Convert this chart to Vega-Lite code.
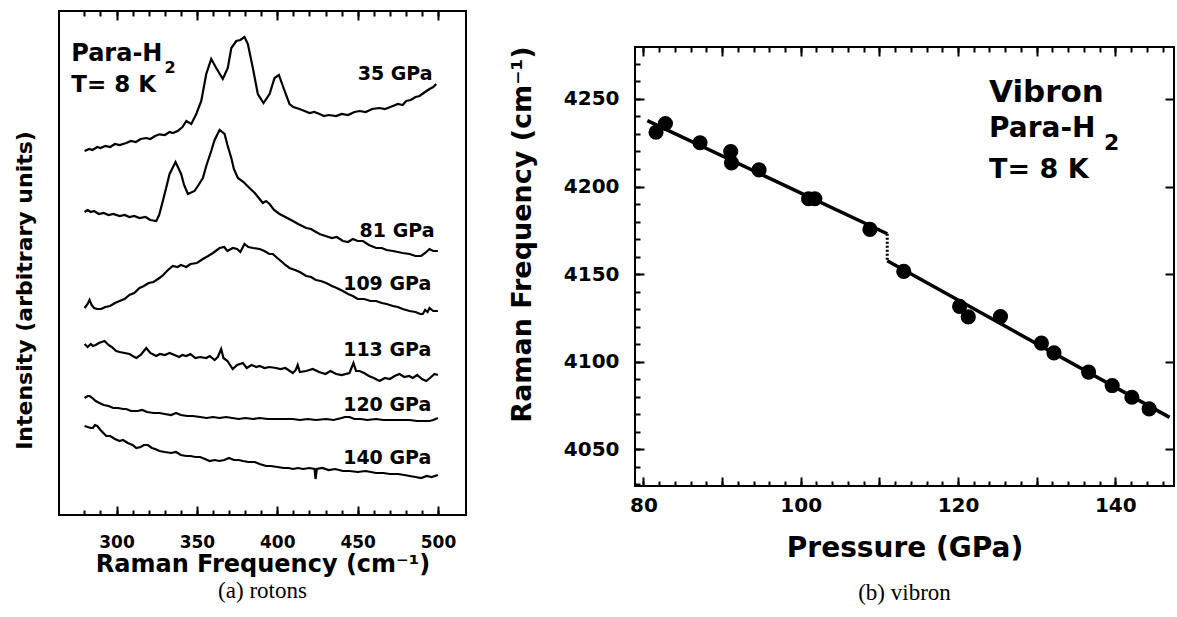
{
 "$schema": "https://vega.github.io/schema/vega-lite/v6.json",
 "padding": {"left": 12, "top": 9, "right": 0, "bottom": 0},
 "background": "white",
 "spacing": 40,
 "config": {
  "view": {"stroke": "black", "strokeWidth": 2},
  "axis": {"grid": false, "domain": false, "tickColor": "black", "tickWidth": 2, "labelColor": "black", "titleColor": "black", "labelFont": "DejaVu Sans", "labelFontWeight": "bold", "titleFont": "DejaVu Sans", "titleFontWeight": "bold", "labelFlush": false}
 },
 "datasets": {
  "spectra": [
   {"s":"35","f":280.1,"i":364},{"s":"35","f":283,"i":366},{"s":"35","f":285,"i":365},{"s":"35","f":288,"i":368},{"s":"35","f":290,"i":367},{"s":"35","f":293,"i":369},{"s":"35","f":296,"i":368},{"s":"35","f":299,"i":371},{"s":"35","f":302,"i":370},{"s":"35","f":306,"i":372},{"s":"35","f":309,"i":374},{"s":"35","f":312,"i":373},{"s":"35","f":315,"i":376},{"s":"35","f":318.5,"i":377},{"s":"35","f":321,"i":376},{"s":"35","f":324,"i":379},{"s":"35","f":326.7,"i":380.7},{"s":"35","f":330,"i":380},{"s":"35","f":333,"i":383},{"s":"35","f":335,"i":382},{"s":"35","f":338,"i":384},{"s":"35","f":341,"i":388},{"s":"35","f":343.4,"i":394},{"s":"35","f":346.5,"i":391},{"s":"35","f":349.6,"i":401},{"s":"35","f":352.7,"i":414},{"s":"35","f":355.8,"i":441},{"s":"35","f":358.9,"i":456},{"s":"35","f":362,"i":447},{"s":"35","f":366.1,"i":436},{"s":"35","f":369.2,"i":447},{"s":"35","f":371.4,"i":467},{"s":"35","f":374.5,"i":474},{"s":"35","f":377,"i":475},{"s":"35","f":379.6,"i":478},{"s":"35","f":381.7,"i":471},{"s":"35","f":384.8,"i":447},{"s":"35","f":387.9,"i":421},{"s":"35","f":391.4,"i":412},{"s":"35","f":395.2,"i":421},{"s":"35","f":398.3,"i":437},{"s":"35","f":401,"i":440},{"s":"35","f":403.9,"i":427},{"s":"35","f":407.6,"i":411},{"s":"35","f":410,"i":408},{"s":"35","f":413.8,"i":406},{"s":"35","f":417,"i":404},{"s":"35","f":420,"i":402},{"s":"35","f":423,"i":403},{"s":"35","f":426.3,"i":401},{"s":"35","f":429,"i":399},{"s":"35","f":432,"i":400},{"s":"35","f":436.7,"i":399},{"s":"35","f":440,"i":401},{"s":"35","f":444,"i":400},{"s":"35","f":448,"i":403},{"s":"35","f":451.2,"i":404},{"s":"35","f":455,"i":403},{"s":"35","f":459,"i":406},{"s":"35","f":463.6,"i":407},{"s":"35","f":467,"i":406},{"s":"35","f":471.9,"i":409},{"s":"35","f":475,"i":411},{"s":"35","f":478,"i":410},{"s":"35","f":480.2,"i":414},{"s":"35","f":483,"i":415},{"s":"35","f":486,"i":418},{"s":"35","f":488.5,"i":419},{"s":"35","f":491,"i":422},{"s":"35","f":494.7,"i":426},{"s":"35","f":497,"i":428},{"s":"35","f":498.9,"i":431},
   {"s":"81","f":280.1,"i":303},{"s":"81","f":282,"i":305},{"s":"81","f":284,"i":303},{"s":"81","f":286,"i":304},{"s":"81","f":289,"i":301},{"s":"81","f":292,"i":302},{"s":"81","f":295,"i":300},{"s":"81","f":298,"i":301},{"s":"81","f":301.9,"i":299},{"s":"81","f":305,"i":300},{"s":"81","f":308,"i":298},{"s":"81","f":311,"i":299},{"s":"81","f":314.3,"i":297},{"s":"81","f":318,"i":298},{"s":"81","f":321,"i":295},{"s":"81","f":324.7,"i":294},{"s":"81","f":326.5,"i":300},{"s":"81","f":328.8,"i":314},{"s":"81","f":331,"i":328},{"s":"81","f":333,"i":341},{"s":"81","f":336.7,"i":353},{"s":"81","f":340.2,"i":341},{"s":"81","f":342,"i":330},{"s":"81","f":344.4,"i":321},{"s":"81","f":348.5,"i":324},{"s":"81","f":351,"i":330},{"s":"81","f":353.7,"i":337},{"s":"81","f":356,"i":350},{"s":"81","f":358.9,"i":364},{"s":"81","f":361,"i":375},{"s":"81","f":364.1,"i":385},{"s":"81","f":367.2,"i":381},{"s":"81","f":369,"i":370},{"s":"81","f":371.4,"i":357},{"s":"81","f":373,"i":346},{"s":"81","f":375.5,"i":337},{"s":"81","f":379,"i":333},{"s":"81","f":382.7,"i":327},{"s":"81","f":386,"i":322},{"s":"81","f":388,"i":318},{"s":"81","f":391,"i":312},{"s":"81","f":393,"i":314},{"s":"81","f":395.2,"i":311},{"s":"81","f":398,"i":305},{"s":"81","f":401.4,"i":301},{"s":"81","f":405,"i":298},{"s":"81","f":409.7,"i":294},{"s":"81","f":413,"i":291},{"s":"81","f":418,"i":287},{"s":"81","f":421,"i":286},{"s":"81","f":423,"i":284},{"s":"81","f":426.3,"i":281},{"s":"81","f":430,"i":279},{"s":"81","f":434,"i":277},{"s":"81","f":437,"i":278},{"s":"81","f":440.8,"i":274},{"s":"81","f":444,"i":273},{"s":"81","f":447,"i":276},{"s":"81","f":450,"i":274},{"s":"81","f":453.3,"i":274},{"s":"81","f":457,"i":270},{"s":"81","f":461.5,"i":267},{"s":"81","f":465,"i":267},{"s":"81","f":468,"i":265},{"s":"81","f":471.9,"i":264},{"s":"81","f":475,"i":263},{"s":"81","f":478,"i":262},{"s":"81","f":482.3,"i":261},{"s":"81","f":486,"i":259},{"s":"81","f":489.5,"i":259},{"s":"81","f":492,"i":262},{"s":"81","f":494.7,"i":266},{"s":"81","f":497,"i":264},{"s":"81","f":499.9,"i":264},
   {"s":"109","f":280.1,"i":207},{"s":"109","f":282,"i":211},{"s":"109","f":283.2,"i":215},{"s":"109","f":284.5,"i":210},{"s":"109","f":286,"i":207},{"s":"109","f":288,"i":206},{"s":"109","f":290.5,"i":206},{"s":"109","f":293,"i":208},{"s":"109","f":296,"i":209},{"s":"109","f":299,"i":212},{"s":"109","f":301.9,"i":214},{"s":"109","f":305,"i":216},{"s":"109","f":308,"i":220},{"s":"109","f":311,"i":222},{"s":"109","f":314.3,"i":227},{"s":"109","f":317,"i":229},{"s":"109","f":320,"i":232},{"s":"109","f":323,"i":233},{"s":"109","f":326.7,"i":237},{"s":"109","f":329,"i":240},{"s":"109","f":332,"i":245},{"s":"109","f":335,"i":249},{"s":"109","f":338,"i":248},{"s":"109","f":340,"i":250},{"s":"109","f":343.4,"i":248},{"s":"109","f":346,"i":251},{"s":"109","f":350,"i":252},{"s":"109","f":353.7,"i":256},{"s":"109","f":357,"i":259},{"s":"109","f":360,"i":262},{"s":"109","f":364.1,"i":267},{"s":"109","f":367,"i":268},{"s":"109","f":369,"i":264},{"s":"109","f":372.3,"i":267},{"s":"109","f":375,"i":266},{"s":"109","f":377,"i":263},{"s":"109","f":379.6,"i":271},{"s":"109","f":382,"i":268},{"s":"109","f":385,"i":267},{"s":"109","f":389,"i":266},{"s":"109","f":392,"i":264},{"s":"109","f":395,"i":261},{"s":"109","f":397.2,"i":261},{"s":"109","f":400,"i":257},{"s":"109","f":403,"i":253},{"s":"109","f":405,"i":250},{"s":"109","f":407.6,"i":247},{"s":"109","f":411,"i":245},{"s":"109","f":414,"i":243},{"s":"109","f":418,"i":239},{"s":"109","f":421,"i":238},{"s":"109","f":424,"i":235},{"s":"109","f":427,"i":234},{"s":"109","f":430.4,"i":232},{"s":"109","f":434,"i":229},{"s":"109","f":437,"i":227},{"s":"109","f":440.8,"i":224},{"s":"109","f":444,"i":221},{"s":"109","f":447,"i":219},{"s":"109","f":450,"i":216},{"s":"109","f":454,"i":216},{"s":"109","f":458,"i":214},{"s":"109","f":461.5,"i":214},{"s":"109","f":465,"i":212},{"s":"109","f":468,"i":211},{"s":"109","f":471.9,"i":209},{"s":"109","f":475,"i":208},{"s":"109","f":478,"i":206},{"s":"109","f":482.3,"i":204},{"s":"109","f":486,"i":203},{"s":"109","f":489,"i":201},{"s":"109","f":490.5,"i":201},{"s":"109","f":492,"i":205},{"s":"109","f":493.5,"i":203},{"s":"109","f":494.7,"i":207},{"s":"109","f":497,"i":204},{"s":"109","f":499.9,"i":204},
   {"s":"113","f":280.1,"i":171},{"s":"113","f":282,"i":168},{"s":"113","f":284,"i":171},{"s":"113","f":285.3,"i":169},{"s":"113","f":287,"i":170},{"s":"113","f":289,"i":172},{"s":"113","f":292.5,"i":174},{"s":"113","f":295,"i":170},{"s":"113","f":297,"i":168},{"s":"113","f":299.8,"i":164},{"s":"113","f":302,"i":163},{"s":"113","f":305,"i":162},{"s":"113","f":308.1,"i":161},{"s":"113","f":310,"i":159},{"s":"113","f":312.3,"i":157},{"s":"113","f":315,"i":160},{"s":"113","f":318.5,"i":167},{"s":"113","f":321,"i":162},{"s":"113","f":324.7,"i":159},{"s":"113","f":327,"i":161},{"s":"113","f":330,"i":160},{"s":"113","f":333,"i":162},{"s":"113","f":336,"i":160},{"s":"113","f":339,"i":158},{"s":"113","f":341,"i":160},{"s":"113","f":343.4,"i":159},{"s":"113","f":346,"i":161},{"s":"113","f":349,"i":157},{"s":"113","f":352,"i":158},{"s":"113","f":355.8,"i":157},{"s":"113","f":358,"i":159},{"s":"113","f":361,"i":155},{"s":"113","f":363,"i":158},{"s":"113","f":365.1,"i":166},{"s":"113","f":366.5,"i":157},{"s":"113","f":369,"i":154},{"s":"113","f":372.3,"i":146},{"s":"113","f":375,"i":150},{"s":"113","f":378.6,"i":152},{"s":"113","f":381,"i":147},{"s":"113","f":384,"i":150},{"s":"113","f":387,"i":148},{"s":"113","f":389,"i":149},{"s":"113","f":392,"i":147},{"s":"113","f":395,"i":148},{"s":"113","f":399.3,"i":147},{"s":"113","f":402,"i":146},{"s":"113","f":405,"i":147},{"s":"113","f":409.7,"i":142},{"s":"113","f":411.5,"i":145},{"s":"113","f":412.7,"i":150},{"s":"113","f":414,"i":143},{"s":"113","f":418,"i":144},{"s":"113","f":422.1,"i":146},{"s":"113","f":426,"i":143},{"s":"113","f":430,"i":141},{"s":"113","f":433,"i":144},{"s":"113","f":436.7,"i":141},{"s":"113","f":440,"i":140},{"s":"113","f":444.9,"i":142},{"s":"113","f":447.4,"i":152},{"s":"113","f":449,"i":144},{"s":"113","f":451.2,"i":144},{"s":"113","f":454,"i":142},{"s":"113","f":457,"i":139},{"s":"113","f":460,"i":137},{"s":"113","f":463.6,"i":134},{"s":"113","f":467,"i":137},{"s":"113","f":470,"i":136},{"s":"113","f":473,"i":139},{"s":"113","f":476,"i":141},{"s":"113","f":479,"i":138},{"s":"113","f":482,"i":139},{"s":"113","f":484.3,"i":137},{"s":"113","f":487,"i":140},{"s":"113","f":490,"i":136},{"s":"113","f":492.7,"i":134},{"s":"113","f":495,"i":137},{"s":"113","f":497.8,"i":141},{"s":"113","f":499.9,"i":140},
   {"s":"120","f":280.1,"i":117},{"s":"120","f":282,"i":119},{"s":"120","f":283.2,"i":119},{"s":"120","f":285,"i":117},{"s":"120","f":287,"i":114},{"s":"120","f":289.4,"i":112},{"s":"120","f":292,"i":110},{"s":"120","f":295,"i":109},{"s":"120","f":298,"i":107},{"s":"120","f":301,"i":107},{"s":"120","f":304,"i":106},{"s":"120","f":306,"i":106},{"s":"120","f":309,"i":104},{"s":"120","f":313,"i":104},{"s":"120","f":316,"i":105},{"s":"120","f":319,"i":103},{"s":"120","f":323,"i":102},{"s":"120","f":326.7,"i":102},{"s":"120","f":330,"i":101},{"s":"120","f":334,"i":100},{"s":"120","f":337,"i":102},{"s":"120","f":340,"i":100},{"s":"120","f":344,"i":99},{"s":"120","f":347.5,"i":99},{"s":"120","f":352,"i":98},{"s":"120","f":356,"i":97},{"s":"120","f":360,"i":98},{"s":"120","f":364,"i":97},{"s":"120","f":368.2,"i":98},{"s":"120","f":372,"i":97},{"s":"120","f":376,"i":96},{"s":"120","f":380,"i":97},{"s":"120","f":385,"i":96},{"s":"120","f":389,"i":97},{"s":"120","f":394,"i":96},{"s":"120","f":398,"i":96},{"s":"120","f":403,"i":96},{"s":"120","f":409.7,"i":96},{"s":"120","f":414,"i":95},{"s":"120","f":419,"i":96},{"s":"120","f":424,"i":95},{"s":"120","f":430.4,"i":96},{"s":"120","f":435,"i":95},{"s":"120","f":440,"i":97},{"s":"120","f":442,"i":98},{"s":"120","f":444.9,"i":98},{"s":"120","f":448,"i":96},{"s":"120","f":452,"i":96},{"s":"120","f":456,"i":95},{"s":"120","f":461.5,"i":96},{"s":"120","f":466,"i":95},{"s":"120","f":471,"i":95},{"s":"120","f":476,"i":95},{"s":"120","f":482.3,"i":95},{"s":"120","f":487,"i":94},{"s":"120","f":492,"i":94},{"s":"120","f":494.7,"i":94},{"s":"120","f":497,"i":95},{"s":"120","f":499.9,"i":97},
   {"s":"140","f":280.1,"i":89},{"s":"140","f":282,"i":88},{"s":"140","f":284,"i":87},{"s":"140","f":285.3,"i":87},{"s":"140","f":286.5,"i":90},{"s":"140","f":288,"i":89},{"s":"140","f":290,"i":85},{"s":"140","f":293.6,"i":79},{"s":"140","f":296,"i":79},{"s":"140","f":299,"i":76},{"s":"140","f":301.9,"i":74},{"s":"140","f":304,"i":75},{"s":"140","f":307,"i":72},{"s":"140","f":310,"i":70},{"s":"140","f":312.3,"i":67},{"s":"140","f":315,"i":68},{"s":"140","f":317,"i":70},{"s":"140","f":319.5,"i":70},{"s":"140","f":322,"i":67},{"s":"140","f":324,"i":66},{"s":"140","f":326.7,"i":64},{"s":"140","f":330,"i":63},{"s":"140","f":334,"i":62},{"s":"140","f":337,"i":63},{"s":"140","f":340,"i":60},{"s":"140","f":343.4,"i":59},{"s":"140","f":346,"i":59},{"s":"140","f":349,"i":58},{"s":"140","f":352,"i":58},{"s":"140","f":355,"i":56},{"s":"140","f":357.9,"i":54},{"s":"140","f":361,"i":55},{"s":"140","f":364,"i":54},{"s":"140","f":367,"i":55},{"s":"140","f":370,"i":57},{"s":"140","f":373,"i":55},{"s":"140","f":376,"i":55},{"s":"140","f":378.6,"i":54},{"s":"140","f":382,"i":53},{"s":"140","f":386,"i":53},{"s":"140","f":389,"i":51},{"s":"140","f":393.1,"i":49},{"s":"140","f":396,"i":49},{"s":"140","f":400,"i":48},{"s":"140","f":404,"i":47},{"s":"140","f":407,"i":47},{"s":"140","f":409.7,"i":46},{"s":"140","f":413,"i":47},{"s":"140","f":416,"i":46},{"s":"140","f":420,"i":47},{"s":"140","f":423.2,"i":46},{"s":"140","f":423.8,"i":36},{"s":"140","f":424.6,"i":46},{"s":"140","f":428,"i":47},{"s":"140","f":432,"i":45},{"s":"140","f":436,"i":46},{"s":"140","f":440.8,"i":44},{"s":"140","f":445,"i":44},{"s":"140","f":450,"i":43},{"s":"140","f":455,"i":44},{"s":"140","f":461.5,"i":42},{"s":"140","f":466,"i":42},{"s":"140","f":470,"i":41},{"s":"140","f":475,"i":41},{"s":"140","f":479,"i":40},{"s":"140","f":482.3,"i":39},{"s":"140","f":486,"i":38},{"s":"140","f":489.5,"i":37},{"s":"140","f":493,"i":39},{"s":"140","f":496,"i":38},{"s":"140","f":499.9,"i":40}
  ],
  "speclabels": [
   {"t":"35 GPa","f":496.6,"i":441.3},
   {"t":"81 GPa","f":497.8,"i":284},
   {"t":"109 GPa","f":495.8,"i":231.3},
   {"t":"113 GPa","f":495.8,"i":164.7},
   {"t":"120 GPa","f":495.8,"i":110},
   {"t":"140 GPa","f":495.8,"i":56.7}
  ],
  "vibron": [
   {"p":81.6,"nu":4231},{"p":82.8,"nu":4236},{"p":87.2,"nu":4225},{"p":91.1,"nu":4220},{"p":91.2,"nu":4213.5},{"p":94.7,"nu":4209.5},{"p":101.0,"nu":4193},{"p":101.8,"nu":4193},{"p":108.8,"nu":4175.5},{"p":113.1,"nu":4151.5},{"p":120.2,"nu":4131.5},{"p":121.3,"nu":4125.5},{"p":125.4,"nu":4125.7},{"p":130.6,"nu":4110.5},{"p":132.2,"nu":4105},{"p":136.6,"nu":4094},{"p":139.6,"nu":4086.3},{"p":142.1,"nu":4079.6},{"p":144.3,"nu":4073}
  ],
  "fits": [
   {"seg":"a","p":80.5,"nu":4237.6},{"seg":"a","p":111.0,"nu":4173},
   {"seg":"b","p":111.0,"nu":4157.6},{"seg":"b","p":146.9,"nu":4068.1}
  ],
  "jump": [
   {"p":111.0,"nu":4173},{"p":111.0,"nu":4157.6}
  ]
 },
 "hconcat": [
  {
   "width": 407, "height": 504,
   "title": {"text": "(a) rotons", "orient": "bottom", "font": "Liberation Serif", "fontWeight": "normal", "fontSize": 23, "offset": 4, "color": "black"},
   "resolve": {"axis": {"x": "independent", "y": "independent"}},
   "layer": [
    {
     "data": {"name": "spectra"},
     "mark": {"type": "line", "color": "black", "strokeWidth": 2.2},
     "encoding": {
      "x": {"field": "f", "type": "quantitative", "scale": {"domain": [264.2, 517.4]},
            "axis": {"orient": "bottom", "values": [300,350,400,450,500], "tickSize": -9, "labelFontSize": 17, "labelPadding": 28, "title": "Raman Frequency (cm⁻¹)", "titleFontSize": 24, "titlePadding": 2}},
      "y": {"field": "i", "type": "quantitative", "scale": {"domain": [0, 504]},
            "axis": {"orient": "left", "ticks": false, "labels": false, "title": "Intensity (arbitrary units)", "titleFontSize": 22, "titlePadding": 23, "titleY": 279}},
      "detail": {"field": "s"}
     }
    },
    {
     "data": {"name": "speclabels"},
     "mark": {"type": "text", "align": "right", "baseline": "middle", "fontSize": 19, "fontWeight": "bold", "font": "DejaVu Sans", "color": "black"},
     "encoding": {
      "x": {"field": "f", "type": "quantitative", "scale": {"domain": [264.2, 517.4]},
            "axis": {"orient": "bottom", "values": [280,290,300,310,320,330,340,350,360,370,380,390,400,410,420,430,440,450,460,470,480,490,500], "tickSize": -5, "labels": false, "title": null}},
      "y": {"field": "i", "type": "quantitative", "scale": {"domain": [0, 504]}, "axis": null},
      "text": {"field": "t"}
     }
    },
    {
     "data": {"values": [{"t": "Para-H", "f": 271.8, "i": 461}]},
     "mark": {"type": "text", "align": "left", "baseline": "middle", "fontSize": 24, "fontWeight": "bold", "font": "DejaVu Sans", "color": "black"},
     "encoding": {
      "x": {"field": "f", "type": "quantitative", "scale": {"domain": [264.2, 517.4]},
            "axis": {"orient": "top", "values": [300,350,400,450,500], "tickSize": -9, "labels": false, "title": null}},
      "y": {"field": "i", "type": "quantitative", "scale": {"domain": [0, 504]}, "axis": null},
      "text": {"field": "t"}
     }
    },
    {
     "data": {"values": [{"t": "2", "f": 329.9, "i": 447}]},
     "mark": {"type": "text", "align": "left", "baseline": "middle", "fontSize": 16, "fontWeight": "bold", "font": "DejaVu Sans", "color": "black"},
     "encoding": {
      "x": {"field": "f", "type": "quantitative", "scale": {"domain": [264.2, 517.4]},
            "axis": {"orient": "top", "values": [280,290,300,310,320,330,340,350,360,370,380,390,400,410,420,430,440,450,460,470,480,490,500], "tickSize": -5, "labels": false, "title": null}},
      "y": {"field": "i", "type": "quantitative", "scale": {"domain": [0, 504]}, "axis": null},
      "text": {"field": "t"}
     }
    },
    {
     "data": {"values": [{"t": "T= 8 K", "f": 271.8, "i": 430.5}]},
     "mark": {"type": "text", "align": "left", "baseline": "middle", "fontSize": 23, "fontWeight": "bold", "font": "DejaVu Sans", "color": "black"},
     "encoding": {
      "x": {"field": "f", "type": "quantitative", "scale": {"domain": [264.2, 517.4]}, "axis": null},
      "y": {"field": "i", "type": "quantitative", "scale": {"domain": [0, 504]}, "axis": null},
      "text": {"field": "t"}
     }
    }
   ]
  },
  {
   "spacing": 0,
   "vconcat": [
    {
     "width": 539, "height": 33,
     "view": {"stroke": null},
     "data": {"values": [{}]},
     "mark": {"type": "point", "opacity": 0}
    },
    {
     "width": 539, "height": 439,
     "title": {"text": "(b) vibron", "orient": "bottom", "font": "Liberation Serif", "fontWeight": "normal", "fontSize": 23, "offset": 19, "color": "black"},
     "resolve": {"axis": {"x": "independent", "y": "independent"}},
     "layer": [
      {
       "data": {"name": "fits"},
       "mark": {"type": "line", "color": "black", "strokeWidth": 3.5},
       "encoding": {
        "x": {"field": "p", "type": "quantitative", "scale": {"domain": [78.93, 147.46]},
              "axis": {"orient": "bottom", "values": [80,90,100,110,120,130,140], "tickSize": -9, "labelExpr": "datum.value % 20 == 0 ? datum.label : ''", "labelFontSize": 20, "labelPadding": 18.5, "title": "Pressure (GPa)", "titleFontSize": 28, "titlePadding": 19}},
        "y": {"field": "nu", "type": "quantitative", "scale": {"domain": [4028.9, 4279.7]},
              "axis": {"orient": "left", "values": [4050,4100,4150,4200,4250], "format": "d", "tickSize": -9, "labelFontSize": 20, "labelPadding": 25, "title": "Raman Frequency (cm⁻¹)", "titleFontSize": 27, "titlePadding": 27, "titleY": 187}},
        "detail": {"field": "seg"}
       }
      },
      {
       "data": {"name": "jump"},
       "mark": {"type": "line", "color": "black", "strokeWidth": 3, "strokeDash": [2, 2]},
       "encoding": {
        "x": {"field": "p", "type": "quantitative", "scale": {"domain": [78.93, 147.46]},
              "axis": {"orient": "bottom", "values": [80,82,84,86,88,90,92,94,96,98,100,102,104,106,108,110,112,114,116,118,120,122,124,126,128,130,132,134,136,138,140,142,144,146], "tickSize": -5, "labels": false, "title": null}},
        "y": {"field": "nu", "type": "quantitative", "scale": {"domain": [4028.9, 4279.7]},
              "axis": {"orient": "left", "values": [4030,4040,4050,4060,4070,4080,4090,4100,4110,4120,4130,4140,4150,4160,4170,4180,4190,4200,4210,4220,4230,4240,4250,4260,4270], "tickSize": -5, "labels": false, "title": null}}
       }
      },
      {
       "data": {"name": "vibron"},
       "mark": {"type": "circle", "color": "black", "opacity": 1, "size": 230},
       "encoding": {
        "x": {"field": "p", "type": "quantitative", "scale": {"domain": [78.93, 147.46]},
              "axis": {"orient": "top", "values": [80,90,100,110,120,130,140], "tickSize": -9, "labels": false, "title": null}},
        "y": {"field": "nu", "type": "quantitative", "scale": {"domain": [4028.9, 4279.7]},
              "axis": {"orient": "right", "values": [4050,4100,4150,4200,4250], "tickSize": -9, "labels": false, "title": null}}
       }
      },
      {
       "data": {"values": [{"t": "Vibron", "p": 123.94, "nu": 4253.7}]},
       "mark": {"type": "text", "align": "left", "baseline": "middle", "fontSize": 31, "fontWeight": "bold", "font": "DejaVu Sans", "color": "black"},
       "encoding": {
        "x": {"field": "p", "type": "quantitative", "scale": {"domain": [78.93, 147.46]},
              "axis": {"orient": "top", "values": [80,82,84,86,88,90,92,94,96,98,100,102,104,106,108,110,112,114,116,118,120,122,124,126,128,130,132,134,136,138,140,142,144,146], "tickSize": -5, "labels": false, "title": null}},
        "y": {"field": "nu", "type": "quantitative", "scale": {"domain": [4028.9, 4279.7]}, "axis": null},
        "text": {"field": "t"}
       }
      },
      {
       "data": {"values": [{"t": "Para-H", "p": 123.94, "nu": 4232.9}]},
       "mark": {"type": "text", "align": "left", "baseline": "middle", "fontSize": 28, "fontWeight": "bold", "font": "DejaVu Sans", "color": "black"},
       "encoding": {
        "x": {"field": "p", "type": "quantitative", "scale": {"domain": [78.93, 147.46]}, "axis": null},
        "y": {"field": "nu", "type": "quantitative", "scale": {"domain": [4028.9, 4279.7]}, "axis": null},
        "text": {"field": "t"}
       }
      },
      {
       "data": {"values": [{"t": "2", "p": 138.57, "nu": 4225.1}]},
       "mark": {"type": "text", "align": "left", "baseline": "middle", "fontSize": 22, "fontWeight": "bold", "font": "DejaVu Sans", "color": "black"},
       "encoding": {
        "x": {"field": "p", "type": "quantitative", "scale": {"domain": [78.93, 147.46]}, "axis": null},
        "y": {"field": "nu", "type": "quantitative", "scale": {"domain": [4028.9, 4279.7]}, "axis": null},
        "text": {"field": "t"}
       }
      },
      {
       "data": {"values": [{"t": "T= 8 K", "p": 123.94, "nu": 4209.4}]},
       "mark": {"type": "text", "align": "left", "baseline": "middle", "fontSize": 27, "fontWeight": "bold", "font": "DejaVu Sans", "color": "black"},
       "encoding": {
        "x": {"field": "p", "type": "quantitative", "scale": {"domain": [78.93, 147.46]}, "axis": null},
        "y": {"field": "nu", "type": "quantitative", "scale": {"domain": [4028.9, 4279.7]}, "axis": null},
        "text": {"field": "t"}
       }
      }
     ]
    }
   ]
  }
 ]
}
